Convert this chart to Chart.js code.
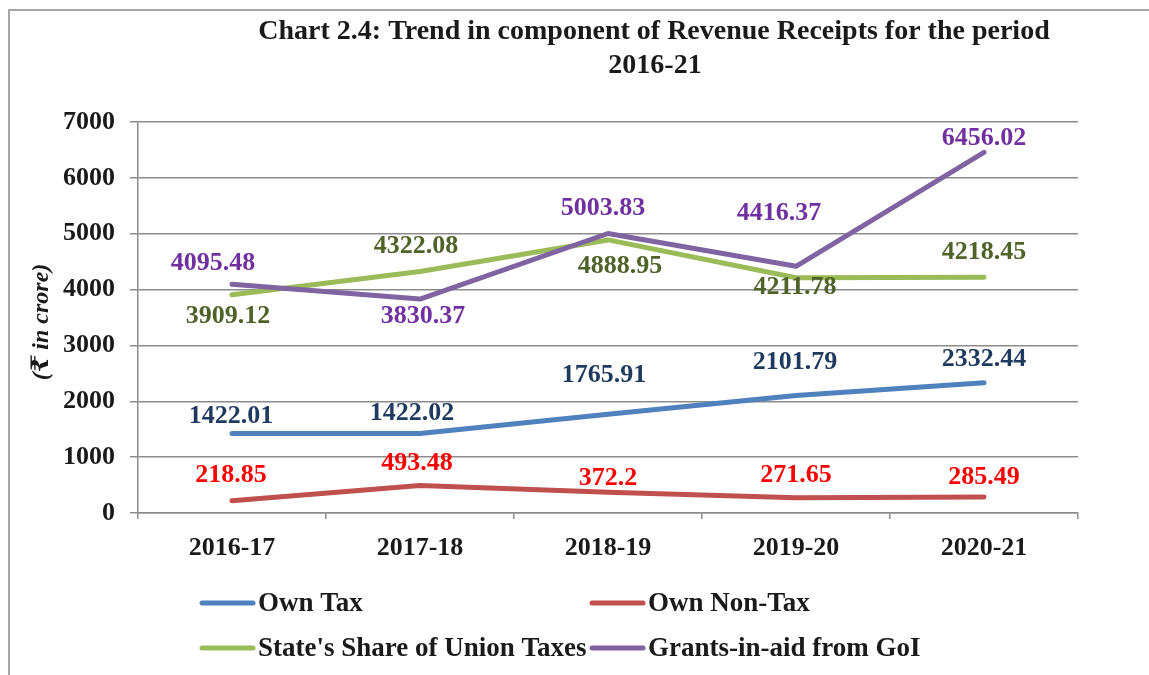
<!DOCTYPE html>
<html>
<head>
<meta charset="utf-8">
<script src="https://cdn.jsdelivr.net/npm/chart.js@4.4.0/dist/chart.umd.min.js"></script>
<style>
  body { margin: 0; background: #fff; }
  #wrap { width: 1149px; height: 675px; }
</style>
</head>
<body>
<div id="wrap"><canvas id="revenue-chart" width="1149" height="675"></canvas></div>
<script>
const years = ['2016-17', '2017-18', '2018-19', '2019-20', '2020-21'];
const ownTax = [1422.01, 1422.02, 1765.91, 2101.79, 2332.44];
const ownNonTax = [218.85, 493.48, 372.2, 271.65, 285.49];
const stateShare = [3909.12, 4322.08, 4888.95, 4211.78, 4218.45];
const grants = [4095.48, 3830.37, 5003.83, 4416.37, 6456.02];
const seriesNames = ['Own Tax', 'Own Non-Tax', "State's Share of Union Taxes", 'Grants-in-aid from GoI'];

const serif = "'Liberation Serif', 'Times New Roman', 'DejaVu Serif', serif";
const gridColor = '#8c8c8c';

// label nudges relative to each point (dx, dy)
const labelOffsets = [
    [[-1, -17], [-8, -20], [-4, -39], [-1, -33], [0, -23]],
    [[-1, -25], [-3, -22], [0, -14], [0, -23], [0, -20]],
    [[-4, 22], [-4, -25], [12, 26], [-1, 10], [0, -25]],
    [[-19, -21], [3, 17], [-5, -25], [-17, -53], [0, -14]]
];
const labelColors = ['#1f3a5f', '#ff0000', '#4f6228', '#7030a0'];
const lineColors = ['#4f81bd', '#c0504d', '#9bbb59', '#8064a2'];
const legendSpots = [[200, 603], [590, 603], [200, 648], [590, 648]];

const extras = {
    id: 'extras',
    afterDatasetsDraw(chart) {
        const ctx = chart.ctx;
        ctx.save();
        ctx.font = 'bold 26px ' + serif;
        ctx.textAlign = 'center';
        ctx.textBaseline = 'middle';
        chart.data.datasets.forEach((ds, i) => {
            const meta = chart.getDatasetMeta(i);
            meta.data.forEach((pt, j) => {
                const off = labelOffsets[i][j];
                ctx.fillStyle = labelColors[i];
                ctx.fillText(String(ds.data[j]), pt.x + off[0], pt.y + off[1]);
            });
        });
        ctx.restore();
    },
    afterDraw(chart) {
        const ctx = chart.ctx;
        ctx.save();
        // outer frame
        ctx.strokeStyle = '#a6a6a6';
        ctx.lineWidth = 2;
        ctx.strokeRect(9, 10, 1300, 900);

        // title
        ctx.fillStyle = '#1a1a1a';
        ctx.font = 'bold 28px ' + serif;
        ctx.textAlign = 'center';
        ctx.textBaseline = 'middle';
        ctx.fillText('Chart 2.4: Trend in component of Revenue Receipts for the period', 654, 32);
        ctx.fillText('2016-21', 655, 66);

        // y axis title
        ctx.save();
        ctx.translate(42, 322);
        ctx.rotate(-Math.PI / 2);
        ctx.font = 'italic bold 24px ' + serif;
        ctx.fillText('(\u20b9 in crore)', 0, 0);
        ctx.restore();

        // legend
        ctx.font = 'bold 27px ' + serif;
        ctx.textAlign = 'left';
        chart.data.datasets.forEach((ds, i) => {
            const [x, y] = legendSpots[i];
            ctx.strokeStyle = ds.borderColor;
            ctx.lineWidth = 5;
            ctx.lineCap = 'round';
            ctx.beginPath();
            ctx.moveTo(x + 2, y);
            ctx.lineTo(x + 53, y);
            ctx.stroke();
            ctx.fillStyle = '#1a1a1a';
            ctx.fillText(ds.label, x + 58, y + 1);
        });
        ctx.restore();
    }
};

const ctx = document.getElementById('revenue-chart').getContext('2d');
const chart = new Chart(ctx, {
    type: 'line',
    data: {
        labels: years,
        datasets: [
            { label: seriesNames[0], data: ownTax, borderColor: lineColors[0], order: 2 },
            { label: seriesNames[1], data: ownNonTax, borderColor: lineColors[1], order: 2 },
            { label: seriesNames[2], data: stateShare, borderColor: lineColors[2], order: 1 },
            { label: seriesNames[3], data: grants, borderColor: lineColors[3], order: 0 }
        ]
    },
    options: {
        responsive: false,
        animation: false,
        layout: { padding: { top: 122, left: 10, right: 71, bottom: 112 } },
        elements: {
            point: { radius: 0 },
            line: { borderWidth: 5, borderCapStyle: 'round', borderJoinStyle: 'round', tension: 0 }
        },
        plugins: {
            legend: { display: false },
            title: { display: false },
            tooltip: { enabled: false }
        },
        scales: {
            x: {
                offset: true,
                grid: { offset: true, drawOnChartArea: false, drawTicks: true, tickLength: 6, color: gridColor, lineWidth: 1.5 },
                border: { color: gridColor, width: 1.5 },
                ticks: { color: '#1a1a1a', padding: 14, font: { family: serif, size: 26, weight: 'bold' } },
                afterFit: s => { s.height = 50; }
            },
            y: {
                min: 0,
                max: 7000,
                grid: { color: gridColor, lineWidth: 1.5, tickLength: 8 },
                border: { color: gridColor, width: 1.5 },
                ticks: {
                    stepSize: 1000,
                    color: '#1a1a1a',
                    padding: 15,
                    font: { family: serif, size: 26, weight: 'bold' },
                    callback: v => String(v)
                },
                afterFit: s => { s.width = 128; }
            }
        }
    },
    plugins: [extras]
});
</script>
</body>
</html>
